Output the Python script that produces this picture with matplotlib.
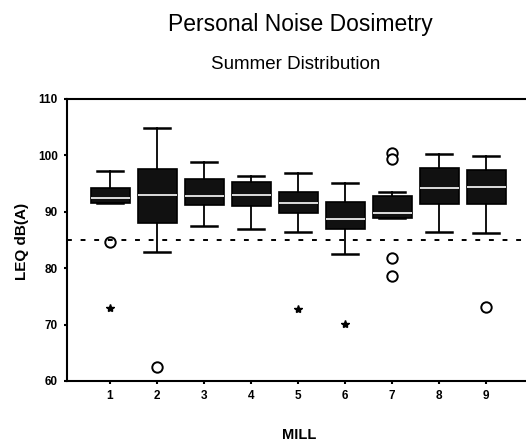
import matplotlib
matplotlib.use("Agg")
import matplotlib.pyplot as plt

plt.rcParams['font.family'] = ['Liberation Sans', 'DejaVu Sans']

mills = [1, 2, 3, 4, 5, 6, 7, 8, 9]
whis_hi = [97.2, 104.9, 98.8, 96.3, 96.9, 95.1, 93.5, 100.2, 99.9]
q3 = [94.2, 97.6, 95.8, 95.3, 93.5, 91.7, 92.8, 97.8, 97.4]
medians = [92.5, 93.0, 92.8, 93.0, 91.6, 88.7, 89.8, 94.2, 94.4]
q1 = [91.6, 88.0, 91.2, 91.0, 89.8, 87.0, 88.9, 91.4, 91.4]
whis_lo = [91.6, 82.9, 87.5, 87.0, 86.4, 82.5, 88.9, 86.4, 86.2]
outliers = [[84.7], [62.5], [], [], [], [], [100.4, 99.3, 81.8, 78.6], [], [73.1]]
extremes = [[73.0], [], [], [], [72.8], [70.1], [], [], []]
limit_db = 85
yticks = [60, 70, 80, 90, 100, 110]

fig = plt.figure(figsize=(5.26, 4.41), dpi=100)
ax = fig.add_axes([67/526, 1 - 381/441, 1 - 67/526, (381 - 99)/441])

stats = []
for i in range(len(mills)):
    stats.append(dict(med=medians[i], q1=q1[i], q3=q3[i],
                      whislo=whis_lo[i], whishi=whis_hi[i],
                      fliers=outliers[i], label=str(mills[i])))

ax.bxp(stats, positions=mills, widths=0.83, patch_artist=True,
       showfliers=True,
       boxprops=dict(facecolor='#111111', edgecolor='black', linewidth=1.2),
       medianprops=dict(color='white', linewidth=1.2),
       whiskerprops=dict(color='black', linewidth=1.3),
       capprops=dict(color='black', linewidth=1.8),
       capwidths=0.55,
       flierprops=dict(marker='o', markerfacecolor='white', markeredgecolor='black',
                       markersize=7.5, markeredgewidth=1.4, linestyle='none'))

for m, ex in zip(mills, extremes):
    if ex:
        ax.plot([m] * len(ex), ex, marker='*', color='black', markersize=6,
                linestyle='none')

ax.axhline(limit_db, color='black', linewidth=1.4, linestyle=(0, (2.5, 4.5)))

ax.set_ylim(60, 110)
ax.set_xlim(0.085, 9.85)
ax.set_yticks(yticks)
ax.set_yticklabels([str(t) for t in yticks], fontsize=8.5, fontweight='bold')
ax.set_xticks(mills)
ax.set_xticklabels([str(m) for m in mills], fontsize=8.5, fontweight='bold')
ax.tick_params(axis='both', direction='out', length=2.5, width=1.5, pad=4)

ax.spines['right'].set_visible(False)
for s in ['top', 'left', 'bottom']:
    ax.spines[s].set_linewidth(1.5)

fig.text(22/526, 1 - 241/441, 'LEQ dB(A)', ha='center', va='center',
         rotation=90, fontsize=11, fontweight='bold')
fig.text(299/526, 1 - 435/441, 'MILL', ha='center', va='center', fontsize=10.5,
         fontweight='bold')

fig.text(300/526, 1 - 31/441, 'Personal Noise Dosimetry', ha='center',
         va='baseline', fontsize=16.5)
fig.text(296/526, 1 - 69/441, 'Summer Distribution', ha='center',
         va='baseline', fontsize=13.5)

fig.savefig('out.png', dpi=100)
